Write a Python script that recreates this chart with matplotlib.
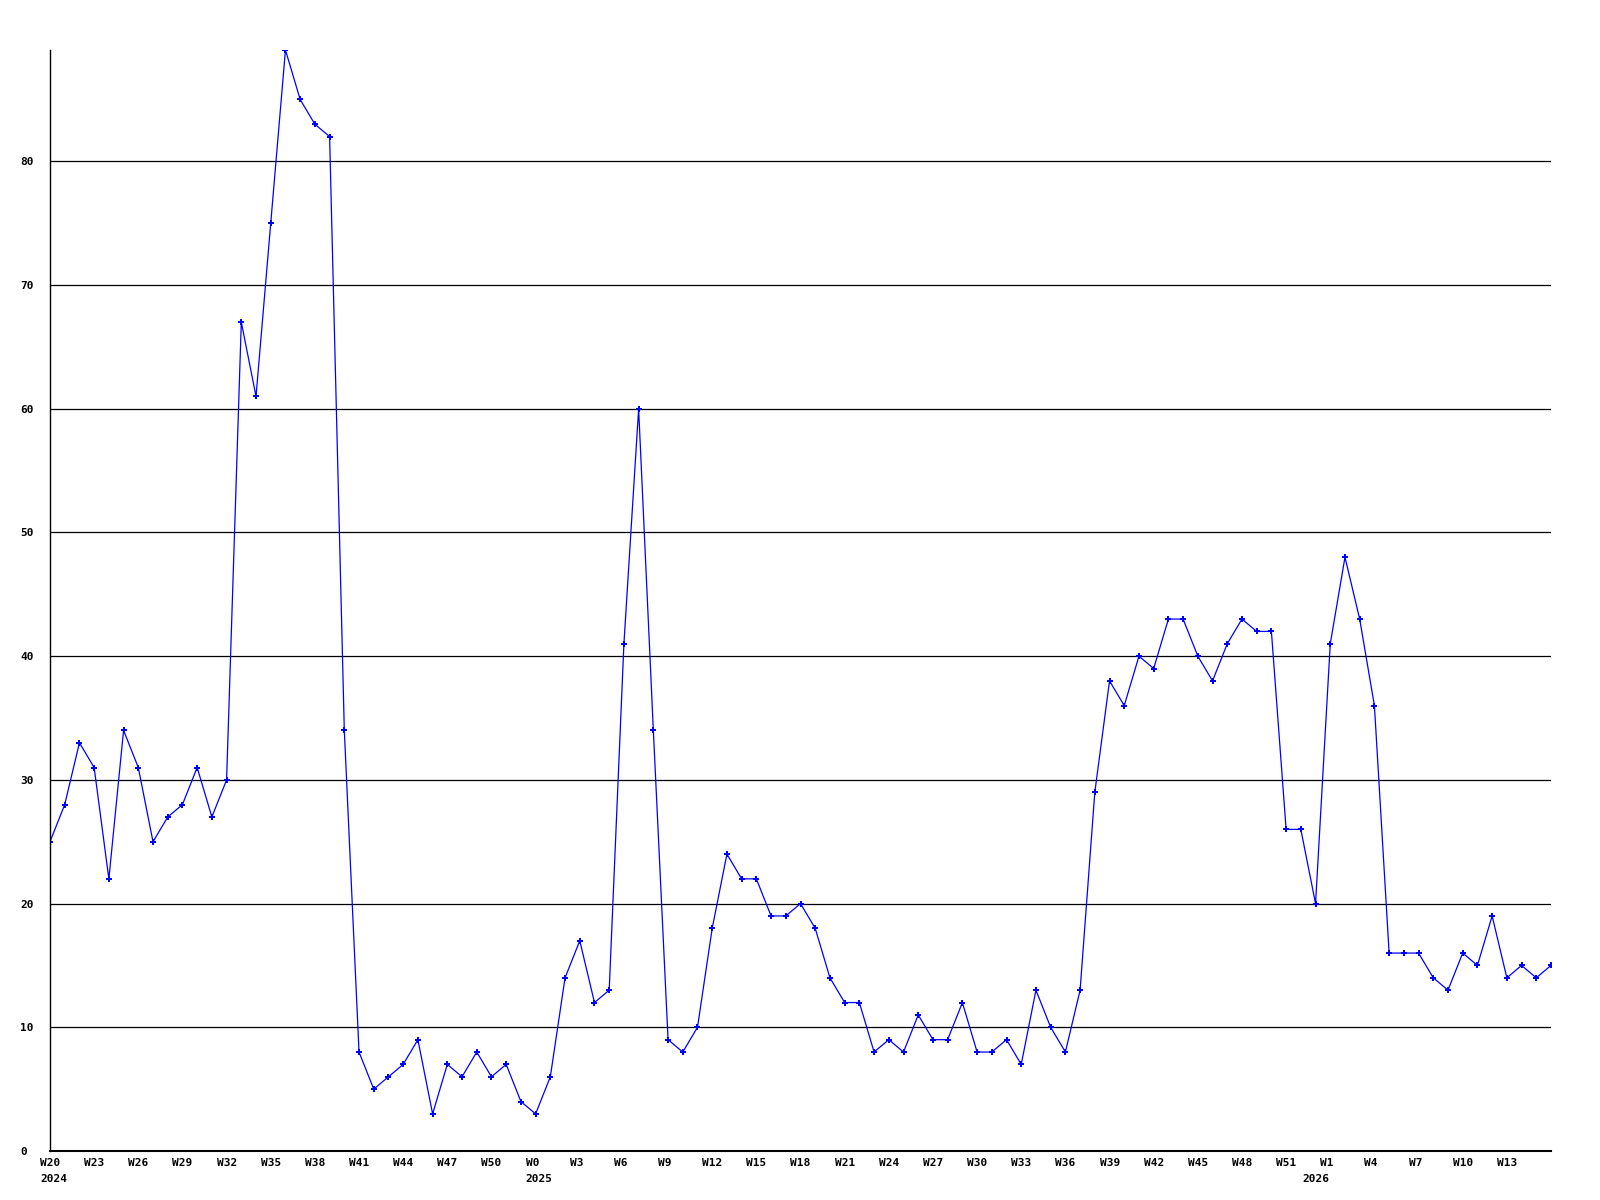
import matplotlib
matplotlib.use('Agg')
import matplotlib.pyplot as plt
import matplotlib.transforms as mtransforms

# Weekly values, W20 2024 .. W16 2026 (one point per week).
values = [25, 28, 33, 31, 22, 34, 31, 25, 27, 28, 31, 27, 30, 67, 61, 75,
          89, 85, 83, 82, 34, 8, 5, 6, 7, 9, 3, 7, 6, 8, 6, 7, 4,
          3, 6, 14, 17, 12, 13, 41, 60, 34, 9, 8, 10, 18, 24, 22, 22, 19,
          19, 20, 18, 14, 12, 12, 8, 9, 8, 11, 9, 9, 12, 8, 8, 9, 7, 13,
          10, 8, 13, 29, 38, 36, 40, 39, 43, 43, 40, 38, 41, 43, 42, 42,
          26, 26, 20, 41, 48, 43, 36, 16, 16, 16, 14, 13, 16, 15, 19, 14,
          15, 14, 15]

# Axis labels (position = week index from start).
week_ticks = [0, 3, 6, 9, 12, 15, 18, 21, 24, 27, 30,
              33, 36, 39, 42, 45, 48, 51, 54, 57, 60, 63, 66, 69, 72, 75, 78, 81, 84,
              87, 90, 93, 96, 99]
week_labels = ['W20', 'W23', 'W26', 'W29', 'W32', 'W35', 'W38', 'W41', 'W44', 'W47', 'W50',
               'W0', 'W3', 'W6', 'W9', 'W12', 'W15', 'W18', 'W21', 'W24', 'W27', 'W30',
               'W33', 'W36', 'W39', 'W42', 'W45', 'W48', 'W51',
               'W1', 'W4', 'W7', 'W10', 'W13']
year_pos = [0, 33, 85.8]
year_labels = ['2024', '2025', '2026']
y_ticks = [0, 10, 20, 30, 40, 50, 60, 70, 80]

plt.rcParams['font.family'] = 'DejaVu Sans Mono'
plt.rcParams['font.weight'] = 'bold'
plt.rcParams['font.size'] = 8

fig = plt.figure(figsize=(16, 12), dpi=100)
ax = fig.add_axes([50 / 1600, 1 - 1151 / 1200, 1501 / 1600, 1101 / 1200])

x = list(range(len(values)))
ax.plot(x, values, color='#0000ff', lw=0.9, marker='P', markersize=4.5,
        markeredgewidth=0)

ax.set_xlim(0, len(values) - 1)
ax.set_ylim(0, max(values))

for v in y_ticks[1:]:
    ax.axhline(v, color='black', lw=0.9, zorder=0)

ax.spines['top'].set_visible(False)
ax.spines['right'].set_visible(False)
ax.spines['left'].set_linewidth(1.0)
ax.spines['bottom'].set_linewidth(1.5)

ax.set_yticks(y_ticks)
ax.set_yticklabels([str(v) for v in y_ticks])
ax.tick_params(axis='y', length=0, pad=21.6)
for lab in ax.get_yticklabels():
    lab.set_horizontalalignment('left')

ax.set_xticks(week_ticks)
ax.set_xticklabels(week_labels)
ax.tick_params(axis='x', length=0, pad=5)
shift = mtransforms.ScaledTranslation(-0.1, 0, fig.dpi_scale_trans)
for lab in ax.get_xticklabels():
    lab.set_horizontalalignment('left')
    lab.set_transform(lab.get_transform() + shift)

for xp, yl in zip(year_pos, year_labels):
    ax.text(xp, -0.0255, yl, transform=ax.get_xaxis_transform() + shift,
            ha='left', va='center')

fig.savefig('out.png', dpi=100)
